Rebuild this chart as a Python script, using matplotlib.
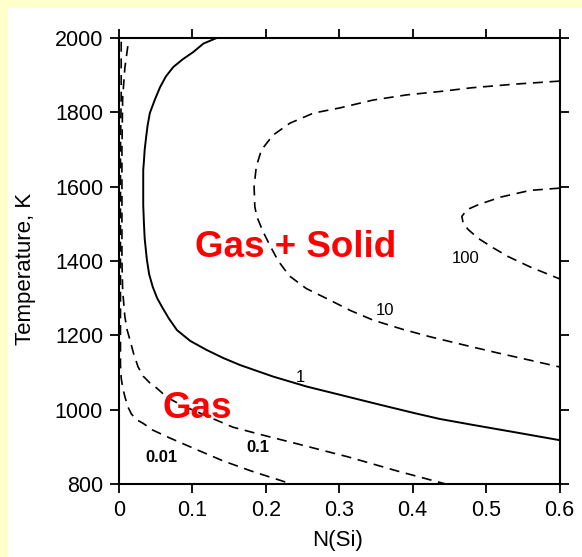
import matplotlib.pyplot as plt
from matplotlib.patches import Rectangle

plt.rcParams['font.family'] = ['Liberation Sans', 'DejaVu Sans']

# contour lines: N(Si) vs temperature (K)
x_001 = [0.003, 0.003, 0.002, 0.002, 0.002, 0.002, 0.003, 0.005, 0.008, 0.012,
         0.017, 0.024, 0.033, 0.046, 0.069, 0.104, 0.142, 0.180, 0.235]
t_001 = [1990, 1850, 1700, 1400, 1200, 1120, 1085, 1060, 1035, 1008,
         988, 973, 963, 945, 924, 894, 862, 835, 800]

x_01 = [0.012, 0.008, 0.005, 0.004, 0.004, 0.005, 0.008, 0.011, 0.015, 0.020,
        0.026, 0.033, 0.042, 0.052, 0.065, 0.085, 0.110, 0.155, 0.195, 0.233,
        0.312, 0.379, 0.445]
t_01 = [1978, 1920, 1840, 1700, 1400, 1320, 1250, 1215, 1187, 1150,
        1115, 1090, 1072, 1057, 1034, 1012, 991, 953, 932, 913,
        873, 835, 800]

x_1 = [0.133, 0.115, 0.101, 0.087, 0.074, 0.064, 0.056, 0.049, 0.042, 0.039,
       0.037, 0.035, 0.034, 0.033, 0.033, 0.033, 0.034, 0.035, 0.038, 0.041,
       0.046, 0.052, 0.059, 0.068, 0.079, 0.097, 0.119, 0.142, 0.165, 0.210,
       0.256, 0.301, 0.356, 0.404, 0.437, 0.482, 0.540, 0.600]
t_1 = [2000, 1985, 1962, 1943, 1922, 1897, 1868, 1835, 1798, 1765,
       1734, 1700, 1670, 1645, 1600, 1550, 1500, 1460, 1403, 1365,
       1330, 1300, 1275, 1245, 1214, 1185, 1161, 1139, 1120, 1089,
       1062, 1040, 1013, 990, 975, 959, 939, 918]

x_10 = [0.600, 0.540, 0.480, 0.437, 0.392, 0.346, 0.301, 0.265, 0.233, 0.210,
        0.194, 0.187, 0.184, 0.185, 0.188, 0.196, 0.206, 0.217, 0.232, 0.255,
        0.287, 0.315, 0.346, 0.385, 0.424, 0.470, 0.515, 0.560, 0.600]
t_10 = [1884, 1876, 1866, 1856, 1847, 1833, 1812, 1798, 1771, 1739,
        1699, 1654, 1600, 1546, 1518, 1480, 1440, 1400, 1360, 1326,
        1295, 1267, 1241, 1217, 1196, 1174, 1153, 1133, 1115]

x_100 = [0.600, 0.560, 0.520, 0.490, 0.474, 0.467, 0.469, 0.476, 0.490, 0.510,
         0.530, 0.560, 0.600]
t_100 = [1596, 1590, 1572, 1552, 1538, 1520, 1500, 1484, 1460, 1435,
         1412, 1384, 1352]

x_ticks = [0, 0.1, 0.2, 0.3, 0.4, 0.5, 0.6]
x_tick_labels = ['0', '0.1', '0.2', '0.3', '0.4', '0.5', '0.6']
y_ticks = [800, 1000, 1200, 1400, 1600, 1800, 2000]

fig = plt.figure(figsize=(5.82, 5.57), dpi=100, facecolor='#FFFFCC')
fig.patches.append(Rectangle((8 / 582, 0), 574 / 582, 549 / 557,
                             transform=fig.transFigure, facecolor='white',
                             edgecolor='none', zorder=-10))
ax = fig.add_axes([119 / 582, 1 - 484 / 557, 440.5 / 582, 446 / 557])
ax.set_zorder(1)
ax.set_facecolor('white')

dash = (0, (6, 4))
ax.plot(x_001, t_001, color='black', lw=1.2, ls=dash)
ax.plot(x_01, t_01, color='black', lw=1.2, ls=dash)
ax.plot(x_1, t_1, color='black', lw=1.4)
ax.plot(x_10, t_10, color='black', lw=1.2, ls=dash)
ax.plot(x_100, t_100, color='black', lw=1.2, ls=dash)

ax.set_xlim(0, 0.6)
ax.set_ylim(800, 2000)
ax.set_xticks(x_ticks)
ax.set_xticklabels(x_tick_labels)
ax.set_yticks(y_ticks)
ax.tick_params(direction='out', length=6.5, width=1.3, labelsize=15.5,
               top=True, right=True, pad=5)
for s in ax.spines.values():
    s.set_linewidth(1.5)

ax.set_xlabel('N(Si)', fontsize=16)
ax.set_ylabel('Temperature, K', fontsize=16)
ax.xaxis.set_label_coords(0.497, -0.103)
ax.yaxis.set_label_coords(-0.188, 0.483)

# contour labels
ax.text(0.058, 859, '0.01', fontsize=12, fontweight='bold', ha='center', va='baseline')
ax.text(0.189, 886, '0.1', fontsize=12, fontweight='bold', ha='center', va='baseline')
ax.text(0.247, 1075, '1', fontsize=12, ha='center', va='baseline')
ax.text(0.362, 1255, '10', fontsize=12, ha='center', va='baseline')
ax.text(0.472, 1395, '100', fontsize=12, ha='center', va='baseline')

# region names
ax.text(0.241, 1411, 'Gas + Solid', color='#FF0000', fontsize=26.5,
        fontweight='bold', ha='center', va='baseline')
ax.text(0.107, 978, 'Gas', color='#FF0000', fontsize=26.5,
        fontweight='bold', ha='center', va='baseline')

fig.savefig('out.png', dpi=100, facecolor=fig.get_facecolor())
